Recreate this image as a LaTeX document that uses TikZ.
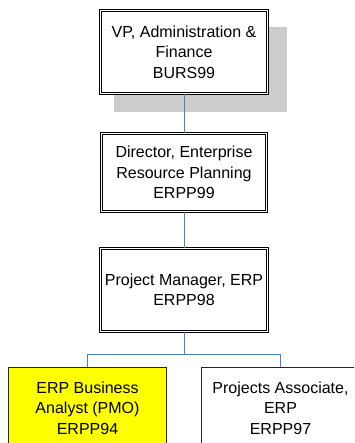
\documentclass[tikz,border=0pt]{standalone}
\usepackage{fontspec}
\setmainfont{Liberation Sans}
\usepackage{xcolor}
\usetikzlibrary{positioning, calc}

\definecolor{linkblue}{HTML}{4F81BD}
\definecolor{shadegray}{HTML}{CCCCCC}
\definecolor{hiyellow}{HTML}{FFFF00}

\tikzset{
  post/.style={draw=black, double=white, double distance=1.6pt, line width=0.8pt,
    fill=white, inner sep=0pt, align=center, font=\fontsize{16}{20.5}\selectfont},
  leaf/.style={draw=black!85, line width=0.9pt, fill=white, inner sep=0pt,
    align=center, font=\fontsize{16}{20.5}\selectfont, minimum width=158pt, minimum height=81pt},
  link/.style={draw=linkblue, line width=0.9pt}
}

\begin{document}
\begin{tikzpicture}[x=1pt, y=-1pt]
        \useasboundingbox (0, 0) rectangle (354, 443);
        \clip (0, 0) rectangle (354, 443);
        
        % shadow behind the top box
        \fill[shadegray] (114, 27) rectangle (287, 112);
        
        \node[post, minimum width=167pt, minimum height=83pt] (vp) at (184, 52) {VP, Administration \&\\Finance\\BURS99};
        \node[post, minimum width=165pt, minimum height=78pt] (director) at (184, 172.5) {Director, Enterprise\\Resource Planning\\ERPP99};
        \node[post, minimum width=167pt, minimum height=83pt] (pm) at (184, 290) {Project Manager, ERP\\ERPP98};
        
        \node[leaf, fill=hiyellow] (analyst) at (87.5, 408) {ERP Business\\Analyst (PMO)\\ERPP94};
        \node[leaf] (associate) at (280.5, 408) {Projects Associate,\\ERP\\ERPP97};
        
        \coordinate (split) at ($(pm.south)+(0, 23)$);
        
        \draw[link] (vp.south) -- (director.north);
        \draw[link] (director.south) -- (pm.north);
        \draw[link] (pm.south) -- (split);
        \draw[link] (analyst.north) |- (split) -| (associate.north);
        
      \end{tikzpicture}
\end{document}
